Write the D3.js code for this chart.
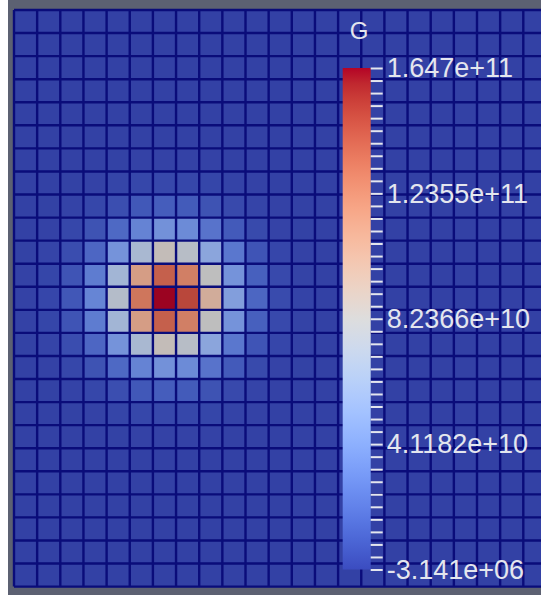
<!DOCTYPE html>
<html>
<head>
<meta charset="utf-8">
<script src="https://cdn.jsdelivr.net/npm/d3@7"></script>
<style>
  html, body { margin:0; padding:0; background:#fff; }
  svg { display:block; }
  .bar text { font-family:"Liberation Sans", Arial, sans-serif; font-size:27px; fill:#e4e6ee; }
  .bar line { stroke:#e4e6ee; stroke-width:2; }
</style>
</head>
<body>
<div id="canvas"></div>
<script>
// cell values of G in units of 1e9, rows top->bottom, columns left->right
var rows = [
  [-0.003141,0,0,0,0,0,0,0,0,0,0,0,0,0,0,0,0,0,0,0,0,0,0,0,0],
  [0,0,0,0,0,0,0,0,0,0,0,0,0,0,0,0,0,0,0,0,0,0,0,0,0],
  [0,0,0,0,0,0,0,0,0,0,0,0,0,0,0,0,0,0,0,0,0,0,0,0,0],
  [0,0,0,0,0,0,0,0,0,0,0,0,0,0,0,0,0,0,0,0,0,0,0,0,0],
  [0,0,0,0,0,0,0,0,0,0,0,0,0,0,0,0,0,0,0,0,0,0,0,0,0],
  [0,0,0,0,0,0,0,0,0,0,0,0,0,0,0,0,0,0,0,0,0,0,0,0,0],
  [0,0,0,0.1,0.2,0.4,0.5,0.4,0.3,0.1,0,0,0,0,0,0,0,0,0,0,0,0,0,0,0],
  [0,0,0.2,0.5,1.3,2.2,2.8,2.5,1.7,0.8,0.3,0.1,0,0,0,0,0,0,0,0,0,0,0,0,0],
  [0,0.2,0.7,2.3,5.5,9.6,12.0,10.9,7.2,3.4,1.2,0.3,0.1,0,0,0,0,0,0,0,0,0,0,0,0],
  [0.1,0.5,2.1,7.2,17.3,30.1,37.8,34.2,22.4,10.6,3.6,0.9,0.2,0,0,0,0,0,0,0,0,0,0,0,0],
  [0.2,1.1,4.8,16.2,39.0,67.9,85.3,77.3,50.6,23.9,8.2,2.0,0.4,0,0,0,0,0,0,0,0,0,0,0,0],
  [0.3,1.7,7.9,26.4,63.6,110.7,139.0,126.1,82.5,39.0,13.3,3.3,0.6,0.1,0,0,0,0,0,0,0,0,0,0,0],
  [0.3,2.0,9.3,31.0,74.8,130.2,164.7,148.4,100.5,45.9,15.7,3.9,0.7,0.1,0,0,0,0,0,0,0,0,0,0,0],
  [0.3,1.7,7.9,26.4,63.6,110.7,139.0,126.1,82.5,39.0,13.3,3.3,0.6,0.1,0,0,0,0,0,0,0,0,0,0,0],
  [0.2,1.1,4.8,16.2,39.0,67.9,85.3,77.3,50.6,23.9,8.2,2.0,0.4,0,0,0,0,0,0,0,0,0,0,0,0],
  [0.1,0.5,2.1,7.2,17.3,30.1,37.8,34.2,22.4,10.6,3.6,0.9,0.2,0,0,0,0,0,0,0,0,0,0,0,0],
  [0,0.2,0.7,2.3,5.5,9.6,12.0,10.9,7.2,3.4,1.2,0.3,0.1,0,0,0,0,0,0,0,0,0,0,0,0],
  [0,0,0.2,0.5,1.3,2.2,2.8,2.5,1.7,0.8,0.3,0.1,0,0,0,0,0,0,0,0,0,0,0,0,0],
  [0,0,0,0.1,0.2,0.4,0.5,0.4,0.3,0.1,0,0,0,0,0,0,0,0,0,0,0,0,0,0,0],
  [0,0,0,0,0,0,0,0,0,0,0,0,0,0,0,0,0,0,0,0,0,0,0,0,0],
  [0,0,0,0,0,0,0,0,0,0,0,0,0,0,0,0,0,0,0,0,0,0,0,0,0],
  [0,0,0,0,0,0,0,0,0,0,0,0,0,0,0,0,0,0,0,0,0,0,0,0,0],
  [0,0,0,0,0,0,0,0,0,0,0,0,0,0,0,0,0,0,0,0,0,0,0,0,0],
  [0,0,0,0,0,0,0,0,0,0,0,0,0,0,0,0,0,0,0,0,0,0,0,0,0],
  [0,0,0,0,0,0,0,0,0,0,0,0,0,0,0,0,0,0,0,0,0,0,0,0,0]
];

var gMin = -3.141e6, gMax = 1.6473e11;
var tickLabels = ['-3.141e+06','4.1182e+10','8.2366e+10','1.2355e+11','1.647e+11'];

// paraview cool to warm
var coolWarm = ['#3b4cc0','#445acc','#4d68d7','#5775e1','#6282ea','#6c8ef1','#779af7','#82a5fb',
  '#8db0fe','#98b9ff','#a3c2ff','#aec9fd','#b8d0f9','#c2d5f4','#ccd9ee','#d5dbe6','#dddddd',
  '#e5d8d1','#ecd3c5','#f1ccb9','#f5c4ad','#f7bba0','#f7b194','#f7a687','#f49a7b','#f18d6f',
  '#ec7f63','#e57058','#de604d','#d55042','#cb3e38','#c0282f','#b40426'];

var W = 541, H = 595;
var nCols = rows[0].length, nRows = rows.length;

var svg = d3.select('#canvas')
    .append('svg')
    .attr('width', W)
    .attr('height', H);

// frame
svg.append('rect')
    .attr('x', 8).attr('y', 0)
    .attr('width', W - 8).attr('height', H)
    .attr('fill', '#5c6172');

var scaleX = d3.scaleBand()
    .domain(d3.range(nCols))
    .range([14, 14 + nCols * 23.15]);
var scaleY = d3.scaleBand()
    .domain(d3.range(nRows))
    .range([10, 586.6]);

var t = d3.scaleLinear().domain([gMin, gMax]).range([0, 1]);
var colorMap = d3.scaleLinear()
    .domain(coolWarm.map(function(d, i){ return i / (coolWarm.length - 1); }))
    .range(coolWarm)
    .interpolate(d3.interpolateRgb);

var cells = [];
rows.forEach(function(r, j){
  r.forEach(function(v, i){ cells.push({row: j, col: i, value: v * 1e9}); });
});

var grid = svg.append('g');

grid.selectAll('.cell')
    .data(cells)
    .enter()
    .append('rect')
    .attr('class', 'cell')
    .attr('x', function(d){ return scaleX(d.col); })
    .attr('y', function(d){ return scaleY(d.row); })
    .attr('width', scaleX.bandwidth() + 0.5)
    .attr('height', scaleY.bandwidth() + 0.5)
    .attr('fill', function(d){
      // shaded like the lit surface
      return d3.color(colorMap(t(d.value))).darker(0.42);
    });

// cell edges
grid.selectAll('.vline')
    .data(d3.range(nCols + 1))
    .enter()
    .append('line')
    .attr('x1', function(d){ return scaleX.range()[0] + d * scaleX.step(); })
    .attr('x2', function(d){ return scaleX.range()[0] + d * scaleX.step(); })
    .attr('y1', scaleY.range()[0])
    .attr('y2', scaleY.range()[1])
    .attr('stroke', '#0a0c7a')
    .attr('stroke-width', 2.4);

grid.selectAll('.hline')
    .data(d3.range(nRows + 1))
    .enter()
    .append('line')
    .attr('y1', function(d){ return scaleY.range()[0] + d * scaleY.step(); })
    .attr('y2', function(d){ return scaleY.range()[0] + d * scaleY.step(); })
    .attr('x1', scaleX.range()[0])
    .attr('x2', scaleX.range()[1])
    .attr('stroke', '#0a0c7a')
    .attr('stroke-width', 2.4);

// colour bar
var barY = d3.scaleLinear().domain([gMin, gMax]).range([569.5, 68]);

var grad = svg.append('defs').append('linearGradient')
    .attr('id', 'cw')
    .attr('x1', 0).attr('y1', 1).attr('x2', 0).attr('y2', 0);
grad.selectAll('stop')
    .data(coolWarm)
    .enter()
    .append('stop')
    .attr('offset', function(d, i){ return i / (coolWarm.length - 1); })
    .attr('stop-color', function(d){ return d; });

svg.append('rect')
    .attr('x', 342.7)
    .attr('y', barY(gMax))
    .attr('width', 28)
    .attr('height', barY(gMin) - barY(gMax))
    .attr('fill', 'url(#cw)');

var tickVals = d3.range(41).map(function(i){ return gMin + i * (gMax - gMin) / 40; });

var axisBar = d3.axisRight(barY)
    .tickValues(tickVals)
    .tickSize(12)
    .tickPadding(4)
    .tickFormat(function(d, i){ return i % 10 === 0 ? tickLabels[i / 10] : ''; });

var bar = svg.append('g')
    .attr('class', 'bar')
    .attr('transform', 'translate(370.7,0)')
    .call(axisBar);
bar.select('.domain').remove();
bar.selectAll('text').attr('fill', null);
bar.selectAll('line').attr('stroke', null);

svg.append('text')
    .attr('x', 359)
    .attr('y', 39)
    .attr('text-anchor', 'middle')
    .style('font-family', '"Liberation Sans", Arial, sans-serif')
    .style('font-size', '24px')
    .attr('fill', '#e4e6ee')
    .text('G');
</script>
</body>
</html>
